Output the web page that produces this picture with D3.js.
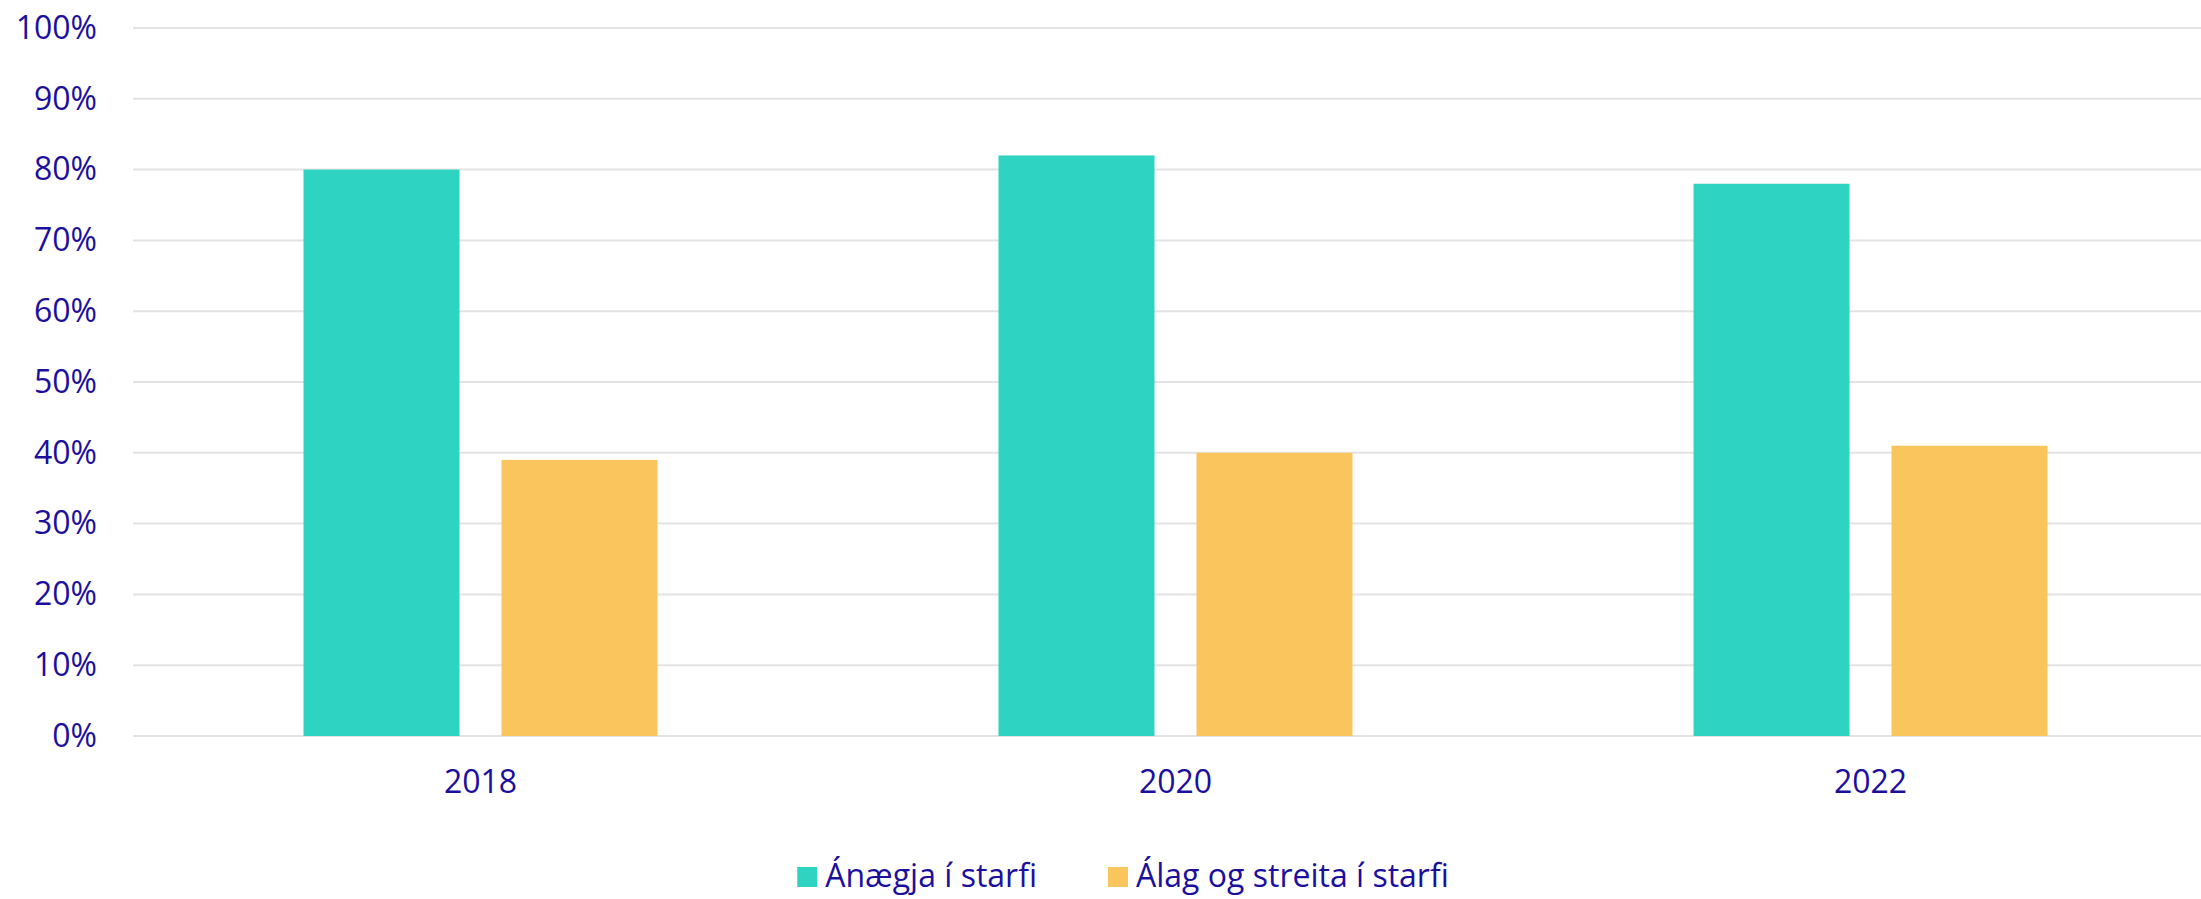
<!DOCTYPE html>
<html>
<head>
<meta charset="utf-8">
<script src="https://cdn.jsdelivr.net/npm/d3@7"></script>
<style>
    body { margin: 0; background: #fff; }
    text { font-family: "Open Sans", sans-serif; fill: #1c0f9e; }
</style>
</head>
<body>
<svg id="chart" width="2201" height="899"></svg>
<script>
var years = ['2018', '2020', '2022']
var seriesNames = ['Ánægja í starfi', 'Álag og streita í starfi']
var anaegja = [0.80, 0.82, 0.78]
var alag = [0.39, 0.40, 0.41]
var yTicks = [0, 0.1, 0.2, 0.3, 0.4, 0.5, 0.6, 0.7, 0.8, 0.9, 1.0]
var colors = ['#2ed3c2', '#f9c55c']

var data = years.map((y, i) => ({ year: y, values: [anaegja[i], alag[i]] }))

var svg = d3.select('#chart'),
    margin = { top: 28, left: 133, bottom: 163, right: -17 },
    width = +svg.attr('width'),
    height = +svg.attr('height')

var x = d3.scaleBand()
    .domain(years)
    .range([margin.left, width - margin.right])

var inner = d3.scaleBand()
    .domain(seriesNames)
    .range([x.bandwidth() / 2 - 177, x.bandwidth() / 2 + 177])
    .paddingInner(0.212)

var y = d3.scaleLinear()
    .domain([0, 1])
    .range([height - margin.bottom, margin.top])

// gridlines
svg.append('g')
    .selectAll('line')
    .data(yTicks)
    .enter().append('line')
    .attr('x1', margin.left)
    .attr('x2', width)
    .attr('y1', d => y(d))
    .attr('y2', d => y(d))
    .attr('stroke', '#e3e3e3')
    .attr('stroke-width', 2)

// y axis labels
var yAxis = svg.append('g')
    .attr('transform', `translate(${margin.left},0)`)
    .call(d3.axisLeft(y).tickValues(yTicks).tickFormat(d3.format('.0%')).tickSize(0).tickPadding(36))
yAxis.select('.domain').remove()
yAxis.selectAll('text')
    .attr('font-size', 32)
    .attr('font-family', null)
    .attr('fill', null)

// bars
var groups = svg.append('g')
    .selectAll('g')
    .data(data)
    .enter().append('g')
    .attr('transform', d => `translate(${x(d.year)},0)`)

groups.selectAll('rect')
    .data(d => d.values.map((v, i) => ({ key: seriesNames[i], value: v, i: i })))
    .enter().append('rect')
    .attr('x', d => inner(d.key))
    .attr('width', inner.bandwidth())
    .attr('y', d => y(d.value))
    .attr('height', d => y(0) - y(d.value))
    .attr('fill', d => colors[d.i])

// x axis labels
var xAxis = svg.append('g')
    .attr('transform', `translate(0,${y(0)})`)
    .call(d3.axisBottom(x).tickSize(0).tickPadding(34))
xAxis.select('.domain').remove()
xAxis.selectAll('text')
    .attr('font-size', 32)
    .attr('font-family', null)
    .attr('fill', null)

// legend
var legend = svg.append('g')
var item = legend.selectAll('g')
    .data(seriesNames)
    .enter().append('g')

item.append('rect')
    .attr('width', 20)
    .attr('height', 20)
    .attr('y', -20)
    .attr('fill', (d, i) => colors[i])

item.append('text')
    .attr('x', 28)
    .attr('y', 0)
    .attr('font-size', 32)
    .text(d => d)

var offset = 0
item.each(function () {
    var g = d3.select(this)
    var w = 28 + g.select('text').node().getComputedTextLength()
    g.attr('transform', `translate(${offset},0)`)
    offset += w + 71
})
var total = offset - 71
legend.attr('transform', `translate(${1123 - total / 2},887)`)
</script>
</body>
</html>
